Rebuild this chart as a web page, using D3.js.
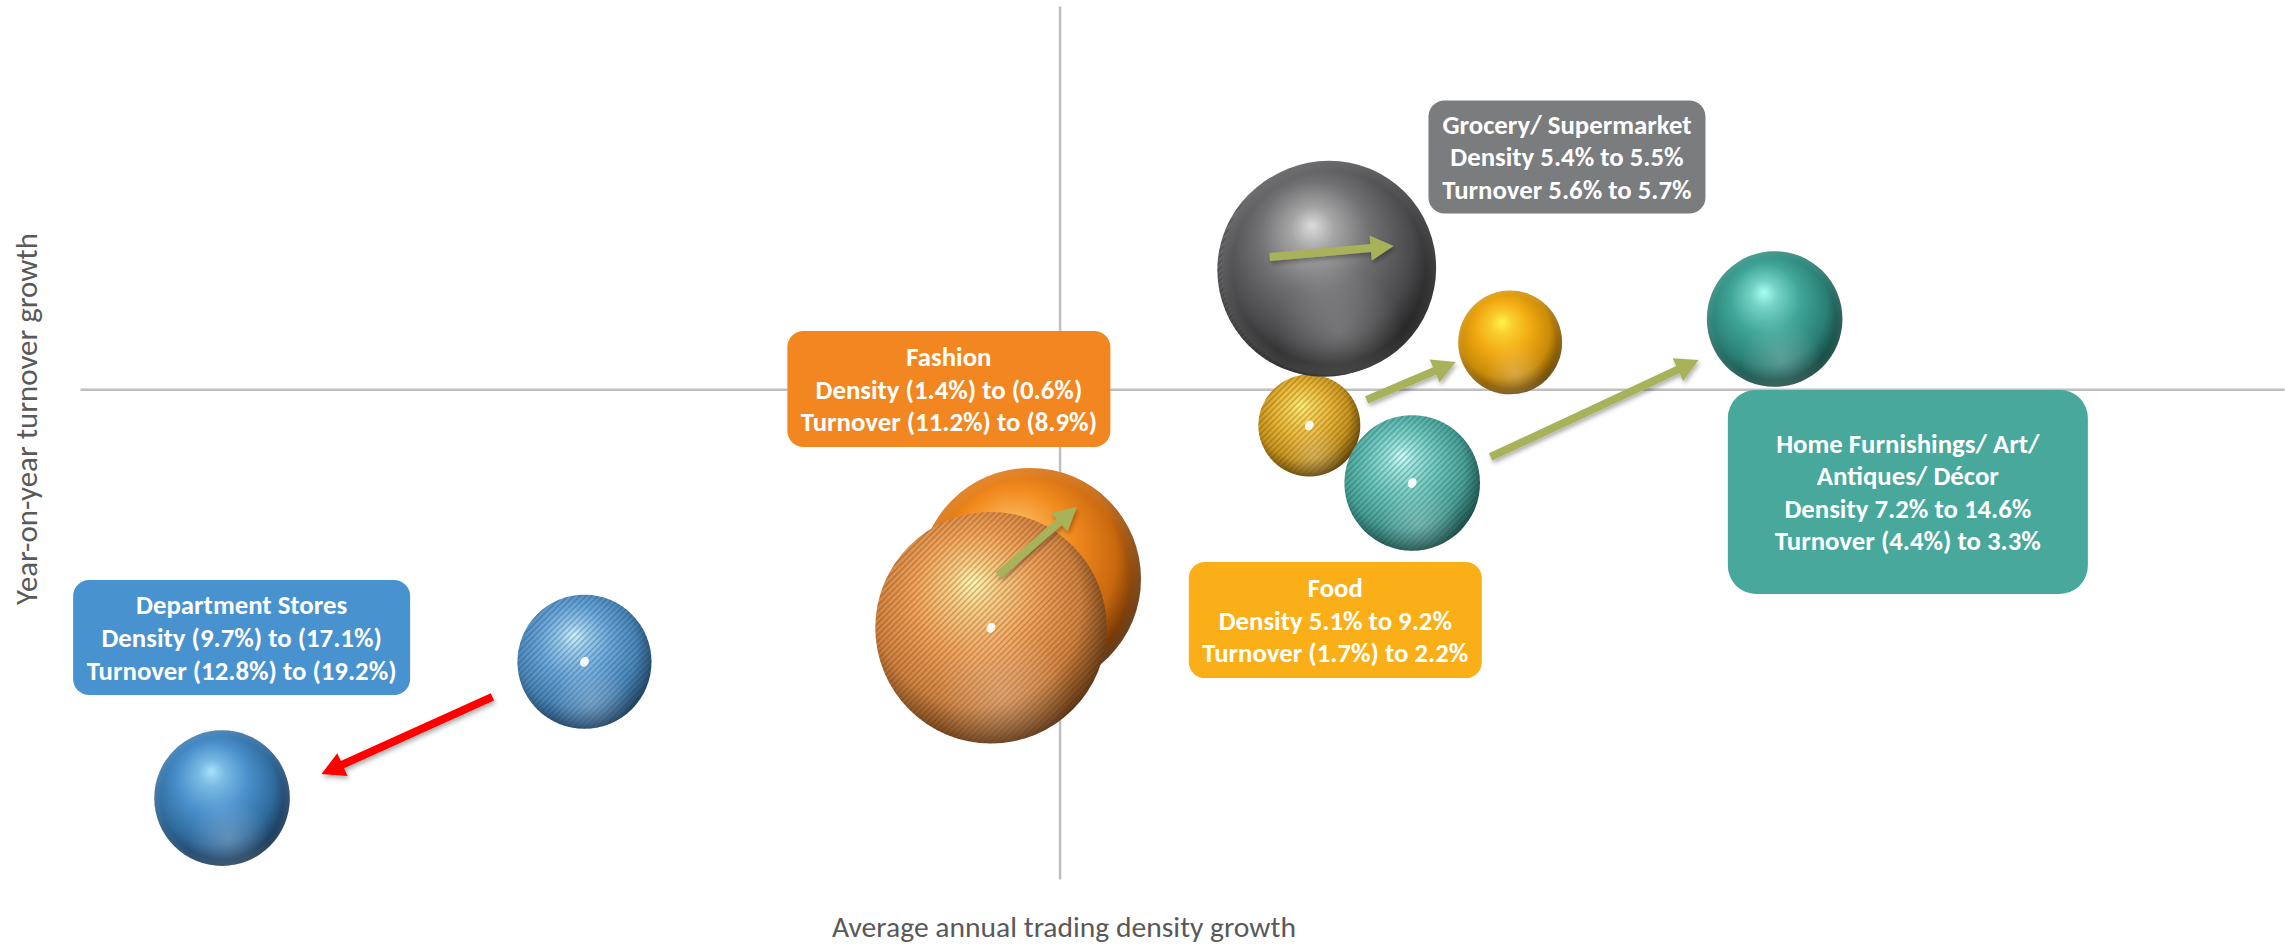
<!DOCTYPE html>
<html><head><meta charset="utf-8">
<script src="https://cdn.jsdelivr.net/npm/d3@7"></script>
<style>
html,body{margin:0;padding:0;background:#fff;}
svg{display:block;}
</style></head>
<body>
<svg id="chart" width="2285" height="944"></svg>
<script>
// ---------------- data ----------------
const categories = ["Department Stores", "Fashion", "Grocery/ Supermarket", "Food", "Home Furnishings/ Art/ Antiques/ Décor"];
const densityBefore  = [-9.7, -1.4, 5.4, 5.1, 7.2];
const densityAfter   = [-17.1, -0.6, 5.5, 9.2, 14.6];
const turnoverBefore = [-12.8, -11.2, 5.6, -1.7, -4.4];
const turnoverAfter  = [-19.2, -8.9, 5.7, 2.2, 3.3];
const sizeBefore = [4.5, 13.4, 11.4, 2.6, 4.6];
const sizeAfter  = [4.6, 12.3, 11.5, 2.7, 4.6];
const labelLines = [
  ["Department Stores", "Density (9.7%) to (17.1%)", "Turnover (12.8%) to (19.2%)"],
  ["Fashion", "Density (1.4%) to (0.6%)", "Turnover (11.2%) to (8.9%)"],
  ["Grocery/ Supermarket", "Density 5.4% to 5.5%", "Turnover 5.6% to 5.7%"],
  ["Food", "Density 5.1% to 9.2%", "Turnover (1.7%) to 2.2%"],
  ["Home Furnishings/ Art/", "Antiques/ Décor", "Density 7.2% to 14.6%", "Turnover (4.4%) to 3.3%"]
];
const xDomain = [-20, 25];
const yDomain = [-23, 18];
const xTitle = "Average annual trading density growth";
const yTitle = "Year-on-year turnover growth";

// annotation arrows (in data units: density %, turnover %)
const arrowFromX = [-11.58, -1.25, 4.29, 6.27, 8.80];
const arrowFromY = [-14.45, -8.72, 6.21, -0.50, -3.18];
const arrowToX   = [-15.07, 0.35, 6.82, 8.09, 13.05];
const arrowToY   = [-18.07, -5.53, 6.73, 1.28, 1.38];

// ---------------- layout / style ----------------
const labelAnchorX = [-16.70, -2.26, 10.36, 5.63, 17.32];
const labelAnchorY = [-11.66, 0.01, 10.91, -10.84, -4.82];
const boxW = [337, 323, 277, 293, 360];
const boxH = [115, 116, 113, 116, 204];
const boxR = [16, 16, 16, 16, 28];
const boxColor = ["#4893CF", "#F28721", "#7B7C7E", "#FAAF18", "#47A89B"];
const arrowColor = ["#FF0000", "#A8B25A", "#A8B25A", "#A8B25A", "#A8B25A"];
const FONT = "Calibri, Carlito, Lato, sans-serif";
// [highlight, base, mid, dark]
const solidPal = [
  ["#A6E2FA", "#4A90CC", "#2F6A9C", "#0E2236"],
  ["#FFD98A", "#F28A1E", "#C9680F", "#361700"],
  ["#DCDCDC", "#707072", "#4A4A4C", "#0E0E0E"],
  ["#FFF44C", "#F2AA12", "#C88A08", "#452C00"],
  ["#A8FFF2", "#3FA598", "#2A7E74", "#0A2C28"]
];
const hatchPal = [
  ["#CDF2FF", "#6AA8DC", "#4A86B8", "#18324C"],
  ["#FFF7B0", "#F2A45C", "#D08240", "#46260C"],
  ["#E8E8E8", "#8A8A8C", "#606062", "#1A1A1A"],
  ["#FFF27A", "#EBB83A", "#C8951E", "#473206"],
  ["#CCFFFA", "#6CC6BD", "#49A097", "#123A36"]
];

const svg = d3.select("#chart");
const x = d3.scaleLinear().domain(xDomain).range([80, 2284]);
const y = d3.scaleLinear().domain(yDomain).range([879, 6]);
const r = d3.scaleSqrt().domain([0, 13.4]).range([0, 115.7]);

// fit a text element's font size so that it spans a target width
function fitWidth(sel, target) {
  const w = sel.node().getComputedTextLength();
  const fs = parseFloat(sel.attr("font-size"));
  if (w > 0) sel.attr("font-size", (fs * target / w).toFixed(2));
  return fs * target / w;
}

const defs = svg.append("defs");
function sphereGrad(id, pal) {
  const g = defs.append("radialGradient").attr("id", id)
    .attr("cx", 0.45).attr("cy", 0.43).attr("r", 0.62).attr("fx", 0.42).attr("fy", 0.3);
  const mix = d3.interpolateRgb;
  [[0, pal[0]], [0.16, mix(pal[0], pal[1])(0.5)], [0.42, pal[1]], [0.72, pal[2]],
   [0.88, mix(pal[2], pal[3])(0.55)], [1, pal[3]]]
    .forEach(([o, c]) => g.append("stop").attr("offset", o).attr("stop-color", c));
}
const refl = defs.append("radialGradient").attr("id", "reflect")
  .attr("cx", 0.55).attr("cy", 0.8).attr("r", 0.3);
refl.append("stop").attr("offset", 0).attr("stop-color", "#fff").attr("stop-opacity", 0.22);
refl.append("stop").attr("offset", 1).attr("stop-color", "#fff").attr("stop-opacity", 0);
const rim = defs.append("radialGradient").attr("id", "rim")
  .attr("cx", 0.5).attr("cy", 0.5).attr("r", 0.5);
rim.append("stop").attr("offset", 0.9).attr("stop-color", "#fff").attr("stop-opacity", 0);
rim.append("stop").attr("offset", 1).attr("stop-color", "#fff").attr("stop-opacity", 0.12);

categories.forEach((c, i) => {
  sphereGrad("solid" + i, solidPal[i]);
  sphereGrad("hatchg" + i, hatchPal[i]);
  const p = defs.append("pattern").attr("id", "stripe" + i)
    .attr("patternUnits", "userSpaceOnUse").attr("width", 4.2).attr("height", 4.2)
    .attr("patternTransform", "rotate(45)");
  p.append("rect").attr("x", 0).attr("y", 0).attr("width", 1.5).attr("height", 4.2)
    .attr("fill", hatchPal[i][3]).attr("fill-opacity", 0.28);
});

const shadow = defs.append("filter").attr("id", "ashadow")
  .attr("x", "-20%").attr("y", "-20%").attr("width", "140%").attr("height", "160%");
shadow.append("feDropShadow").attr("dx", 1.5).attr("dy", 3).attr("stdDeviation", 2)
  .attr("flood-color", "#000").attr("flood-opacity", 0.3);

// ---------------- axes ----------------
const axisColor = "#BFBFBF";
const gx = svg.append("g").attr("transform", `translate(0,${y(0)})`)
  .call(d3.axisBottom(x).tickValues([]).tickSizeOuter(0));
const gy = svg.append("g").attr("transform", `translate(${x(0)},0)`)
  .call(d3.axisLeft(y).tickValues([]).tickSizeOuter(0));
[gx, gy].forEach(g => g.select(".domain").attr("stroke", axisColor).attr("stroke-width", 2.5));

const xt = svg.append("text").attr("x", 1064).attr("y", 927)
  .attr("text-anchor", "middle").attr("dominant-baseline", "central")
  .attr("font-family", FONT).attr("font-size", 24)
  .attr("fill", "#595959").text(xTitle);
fitWidth(xt, 464);
const yt = svg.append("text").attr("transform", "translate(26,419) rotate(-90)")
  .attr("text-anchor", "middle").attr("dominant-baseline", "central")
  .attr("font-family", FONT).attr("font-size", 24)
  .attr("fill", "#595959").text(yTitle);
fitWidth(yt, 372);

// ---------------- bubbles ----------------
const points = [];
categories.forEach((c, i) => {
  points.push({i, kind: "after", dx: densityAfter[i], ty: turnoverAfter[i], s: sizeAfter[i]});
  points.push({i, kind: "before", dx: densityBefore[i], ty: turnoverBefore[i], s: sizeBefore[i]});
});
points.sort((a, b) => a.s - b.s);

const bub = svg.append("g");
points.forEach(p => {
  const g = bub.append("g").attr("transform", `translate(${x(p.dx)},${y(p.ty)})`);
  const rad = r(p.s);
  if (p.kind === "after") {
    g.append("circle").attr("r", rad).attr("fill", `url(#solid${p.i})`);
    g.append("circle").attr("r", rad).attr("fill", "url(#reflect)");
    g.append("circle").attr("r", rad).attr("fill", "url(#rim)");
  } else {
    g.append("circle").attr("r", rad).attr("fill", `url(#hatchg${p.i})`);
    g.append("circle").attr("r", rad).attr("fill", `url(#stripe${p.i})`);
    g.append("circle").attr("r", rad).attr("fill", "url(#reflect)");
    g.append("ellipse").attr("rx", 4.2).attr("ry", 5.2).attr("transform", "rotate(30)")
      .attr("fill", "#fff").attr("fill-opacity", 0.9);
  }
});

// ---------------- arrows ----------------
function arrowPath(x0, y0, x1, y1, sw, hw, hl) {
  const dx = x1 - x0, dy = y1 - y0, L = Math.hypot(dx, dy);
  const ux = dx / L, uy = dy / L, nx = -uy, ny = ux;
  const bx = x1 - ux * hl, by = y1 - uy * hl;
  const pts = [
    [x0 + nx * sw / 2, y0 + ny * sw / 2],
    [bx + nx * sw / 2, by + ny * sw / 2],
    [bx + nx * hw / 2, by + ny * hw / 2],
    [x1, y1],
    [bx - nx * hw / 2, by - ny * hw / 2],
    [bx - nx * sw / 2, by - ny * sw / 2],
    [x0 - nx * sw / 2, y0 - ny * sw / 2]
  ];
  return d3.line()(pts) + "Z";
}
const arr = svg.append("g").attr("filter", "url(#ashadow)");
categories.forEach((c, i) => {
  arr.append("path")
    .attr("d", arrowPath(x(arrowFromX[i]), y(arrowFromY[i]), x(arrowToX[i]), y(arrowToY[i]), 8, 25, 23))
    .attr("fill", arrowColor[i]);
});

// ---------------- labels ----------------
// measure one reference line to set the common label font size
const probe = svg.append("text").attr("font-family", FONT).attr("font-weight", "bold")
  .attr("font-size", 24).text(labelLines[0][2]);
const labelFs = fitWidth(probe, 310);
probe.remove();

const lab = svg.append("g");
categories.forEach((c, i) => {
  const cx = x(labelAnchorX[i]), cy = y(labelAnchorY[i]);
  const g = lab.append("g").attr("transform", `translate(${cx},${cy})`);
  g.append("rect").attr("x", -boxW[i] / 2).attr("y", -boxH[i] / 2)
    .attr("width", boxW[i]).attr("height", boxH[i]).attr("rx", boxR[i])
    .attr("fill", boxColor[i]);
  const lines = labelLines[i], n = lines.length, lh = 32.6;
  lines.forEach((t, k) => {
    g.append("text").attr("x", 0).attr("y", (k - (n - 1) / 2) * lh)
      .attr("text-anchor", "middle").attr("dominant-baseline", "central")
      .attr("font-family", FONT).attr("font-weight", "bold")
      .attr("font-size", labelFs.toFixed(2)).attr("fill", "#fff").text(t);
  });
});
</script>
</body></html>
